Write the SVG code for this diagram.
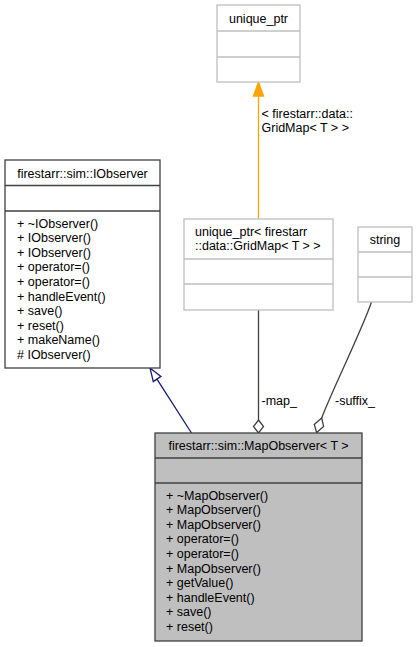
<svg xmlns="http://www.w3.org/2000/svg" width="418" height="647" viewBox="0 0 418 647">
  <style>
    text { font-family: "Liberation Sans", Arial, Helvetica, sans-serif; font-size: 12.5px; fill: #000; }
    .mid { text-anchor: middle; }
    .box { fill: #fff; stroke: #404040; stroke-width: 1.3; }
    .ext { fill: #fff; stroke: #bfbfbf; stroke-width: 1.3; }
    .cur { fill: #bfbfbf; stroke: #404040; stroke-width: 1.3; }
    .sep-dark { stroke: #404040; stroke-width: 1.3; }
    .sep-light { stroke: #bfbfbf; stroke-width: 1.3; }
    .edge-tpl { fill: none; stroke: #ffa500; stroke-width: 1.3; }
    .edge-inh { fill: none; stroke: #191970; stroke-width: 1.3; }
    .edge-use { fill: none; stroke: #404040; stroke-width: 1.3; }
  </style>
  <defs>
    <marker id="arrow-tpl" markerWidth="12" markerHeight="12" viewBox="0 0 12 12" refX="12" refY="6" orient="auto" markerUnits="userSpaceOnUse">
      <path d="M0,1 L12,6 L0,11 Z" fill="#ffa500" stroke="#ffa500"/>
    </marker>
  </defs>

  <!-- connectors -->
  <g id="edges">
    <!-- template instance -->
    <line class="edge-tpl" x1="258.5" y1="219" x2="258.5" y2="96"/>
    <polygon points="258.5,82 253.5,96 263.5,96" fill="#ffa500" stroke="#ffa500" stroke-width="1.3"/>
    <text x="261.5" y="117.5">&lt; firestarr::data::</text>
    <text x="261.5" y="132.2">GridMap&lt; T &gt; &gt;</text>

    <!-- inheritance -->
    <line class="edge-inh" x1="191.5" y1="433" x2="157.1" y2="379.3"/>
    <polygon points="150,368 160.9,376.4 153.3,381.6" fill="#fff" stroke="#191970" stroke-width="1.3"/>

    <!-- map_ member -->
    <line class="edge-use" x1="258.5" y1="310" x2="258.5" y2="420"/>
    <polygon points="258.5,420 263.5,426.5 258.5,433 253.5,426.5" fill="#fff" stroke="#404040" stroke-width="1.3"/>
    <text x="261.5" y="404.5">-map_</text>

    <!-- suffix_ member -->
    <path class="edge-use" d="M371.5,302 C362,330 330,395 321.7,418"/>
    <polygon points="321.7,418 323.6,426.4 316.6,432.5 314.3,424.4" fill="#fff" stroke="#404040" stroke-width="1.3"/>
    <text x="335" y="404.5">-suffix_</text>
  </g>

  <!-- nodes -->
  <g id="node-unique_ptr">
    <rect class="ext" x="217" y="5" width="83" height="77"/>
    <line class="sep-light" x1="217" y1="31" x2="300" y2="31"/>
    <line class="sep-light" x1="217" y1="57" x2="300" y2="57"/>
    <text class="mid" x="258.5" y="22.5">unique_ptr</text>
  </g>

  <g id="node-unique_ptr_gridmap">
    <rect class="ext" x="184" y="219" width="149" height="91"/>
    <line class="sep-light" x1="184" y1="259" x2="333" y2="259"/>
    <line class="sep-light" x1="184" y1="284" x2="333" y2="284"/>
    <text x="195" y="235.5">unique_ptr&lt; firestarr</text>
    <text x="195" y="250.2">::data::GridMap&lt; T &gt; &gt;</text>
  </g>

  <g id="node-string">
    <rect class="ext" x="358" y="227" width="54" height="75"/>
    <line class="sep-light" x1="358" y1="252" x2="412" y2="252"/>
    <line class="sep-light" x1="358" y1="277" x2="412" y2="277"/>
    <text class="mid" x="385" y="244">string</text>
  </g>

  <g id="node-IObserver">
    <rect class="box" x="5" y="160" width="155" height="208"/>
    <line class="sep-dark" x1="5" y1="185.5" x2="160" y2="185.5"/>
    <line class="sep-dark" x1="5" y1="211" x2="160" y2="211"/>
    <text class="mid" x="82.5" y="177.5">firestarr::sim::IObserver</text>
    <text x="17" y="227.5">+ ~IObserver()</text>
    <text x="17" y="242.1">+ IObserver()</text>
    <text x="17" y="256.7">+ IObserver()</text>
    <text x="17" y="271.3">+ operator=()</text>
    <text x="17" y="285.9">+ operator=()</text>
    <text x="17" y="300.5">+ handleEvent()</text>
    <text x="17" y="315.1">+ save()</text>
    <text x="17" y="329.7">+ reset()</text>
    <text x="17" y="344.3">+ makeName()</text>
    <text x="17" y="358.9"># IObserver()</text>
  </g>

  <g id="node-MapObserver">
    <rect class="cur" x="155" y="433" width="207" height="208"/>
    <line class="sep-dark" x1="155" y1="458" x2="362" y2="458"/>
    <line class="sep-dark" x1="155" y1="483" x2="362" y2="483"/>
    <text class="mid" x="258.5" y="450">firestarr::sim::MapObserver&lt; T &gt;</text>
    <text x="166" y="499.5">+ ~MapObserver()</text>
    <text x="166" y="514.1">+ MapObserver()</text>
    <text x="166" y="528.7">+ MapObserver()</text>
    <text x="166" y="543.3">+ operator=()</text>
    <text x="166" y="557.9">+ operator=()</text>
    <text x="166" y="572.5">+ MapObserver()</text>
    <text x="166" y="587.1">+ getValue()</text>
    <text x="166" y="601.7">+ handleEvent()</text>
    <text x="166" y="616.3">+ save()</text>
    <text x="166" y="630.9">+ reset()</text>
  </g>
</svg>
